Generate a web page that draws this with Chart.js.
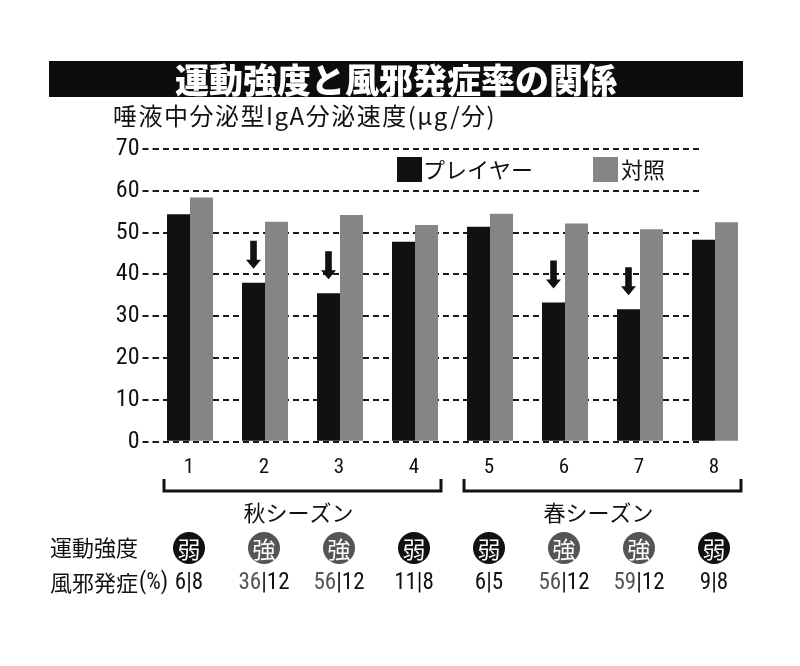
<!DOCTYPE html>
<html>
<head>
<meta charset="utf-8">
<script src="https://cdn.jsdelivr.net/npm/chart.js@4"></script>
<style>
  html, body { margin: 0; padding: 0; background: #fff; }
  #wrap { width: 800px; height: 666px; }
</style>
</head>
<body>
<div id="wrap"><canvas id="barChart" width="800" height="666"></canvas></div>
<script>
// data
var categories = ['1', '2', '3', '4', '5', '6', '7', '8'];
var playerValues = [54.4, 38.0, 35.5, 47.8, 51.4, 33.3, 31.7, 48.3];
var controlValues = [58.4, 52.6, 54.2, 51.8, 54.5, 52.2, 50.8, 52.5];
var yTicks = [0, 10, 20, 30, 40, 50, 60, 70];
var intensity = ['弱', '強', '強', '弱', '弱', '強', '強', '弱'];
var coldPlayer = [6, 36, 56, 11, 6, 56, 59, 9];
var coldControl = [8, 12, 12, 8, 5, 12, 12, 8];
var arrowIdx = [1, 2, 5, 6];
var seasonNames = ['秋シーズン', '春シーズン'];
var seasonFrom = [0, 4];
var seasonTo = [3, 7];
var seriesNames = ['プレイヤー', '対照'];

var JP = '"Noto Sans CJK JP", "Noto Sans", sans-serif';
var NUM = '"Roboto Condensed", "Liberation Sans Narrow", "Liberation Sans", sans-serif';
var BLACK = '#111111';
var GRAY = '#858585';
var DARK = '#555555';

var decor = {
    id: 'decor',
    beforeDatasetsDraw: function(chart) {
        // the dashed lines stop just after the last black bar starts
        var ctx = chart.ctx, a = chart.chartArea;
        var last = chart.getDatasetMeta(0).data[categories.length - 1];
        var x0 = last.x - last.width / 2 + 9;
        ctx.save();
        ctx.fillStyle = '#fff';
        ctx.fillRect(x0, a.top - 3, a.right - x0 + 2, a.bottom - a.top + 6);
        ctx.restore();
    },
    afterDatasetsDraw: function(chart) {
        // down arrows above the lowered player bars
        var ctx = chart.ctx;
        var meta = chart.getDatasetMeta(0);
        ctx.save();
        ctx.fillStyle = BLACK;
        arrowIdx.forEach(function(i) {
            var bar = meta.data[i];
            var cx = bar.x, tip = bar.y - 14;
            ctx.beginPath();
            ctx.moveTo(cx - 3.3, tip - 28);
            ctx.lineTo(cx + 3.3, tip - 28);
            ctx.lineTo(cx + 3.3, tip - 9);
            ctx.lineTo(cx + 7.5, tip - 9);
            ctx.lineTo(cx, tip);
            ctx.lineTo(cx - 7.5, tip - 9);
            ctx.lineTo(cx - 3.3, tip - 9);
            ctx.closePath();
            ctx.fill();
        });
        ctx.restore();
    },
    afterDraw: function(chart) {
        var ctx = chart.ctx;
        var x = chart.scales.x;
        var m0 = chart.getDatasetMeta(0), m1 = chart.getDatasetMeta(1);
        ctx.save();

        // title bar
        ctx.fillStyle = '#0d0d0d';
        ctx.fillRect(49, 61, 694, 36);
        ctx.fillStyle = '#fff';
        ctx.font = '900 34px ' + JP;
        ctx.textAlign = 'center';
        ctx.textBaseline = 'middle';
        ctx.fillText('運動強度と風邪発症率の関係', 396, 80);

        // y axis title
        ctx.fillStyle = BLACK;
        ctx.font = '24px ' + JP;
        ctx.textAlign = 'left';
        ctx.letterSpacing = '1.5px';
        ctx.fillText('唾液中分泌型IgA分泌速度(μg/分)', 113, 116);
        ctx.letterSpacing = '0px';

        // legend
        ctx.fillStyle = BLACK;
        ctx.fillRect(397, 157, 25, 25);
        ctx.fillStyle = GRAY;
        ctx.fillRect(593, 157, 25, 25);
        ctx.fillStyle = BLACK;
        ctx.font = '22px ' + JP;
        ctx.fillText(seriesNames[0], 423, 170);
        ctx.fillText(seriesNames[1], 621, 170);

        // category numbers
        ctx.font = '21px ' + NUM;
        ctx.textAlign = 'center';
        for (var c = 0; c < categories.length; c++) {
            ctx.fillText(categories[c], x.getPixelForValue(c) - 1, 468);
        }

        // season brackets
        ctx.strokeStyle = BLACK;
        ctx.lineWidth = 3;
        for (var s = 0; s < seasonNames.length; s++) {
            var b0 = m0.data[seasonFrom[s]], b1 = m1.data[seasonTo[s]];
            var left = b0.x - b0.width / 2 - 3;
            var right = b1.x + b1.width / 2 + 3;
            ctx.beginPath();
            ctx.moveTo(left, 479);
            ctx.lineTo(left, 491);
            ctx.lineTo(right, 491);
            ctx.lineTo(right, 479);
            ctx.stroke();
            ctx.fillStyle = BLACK;
            ctx.font = '22px ' + JP;
            ctx.textAlign = 'center';
            var mid = (x.getPixelForValue(seasonFrom[s]) + x.getPixelForValue(seasonTo[s])) / 2;
            ctx.fillText(seasonNames[s], mid - 4, 513);
        }

        // row labels
        ctx.textAlign = 'left';
        ctx.font = '22px ' + JP;
        ctx.fillText('運動強度', 50, 548);
        ctx.fillText('風邪発症', 50, 583);
        var lw = ctx.measureText('風邪発症').width;
        ctx.font = '23px ' + NUM;
        ctx.fillText('(%)', 50 + lw + 1, 583);

        // intensity circles and cold rates
        for (var i = 0; i < categories.length; i++) {
            var cx = x.getPixelForValue(i);
            var strong = intensity[i] === '強';
            ctx.beginPath();
            ctx.arc(cx - 1, 548, 16, 0, Math.PI * 2);
            ctx.fillStyle = strong ? DARK : BLACK;
            ctx.fill();
            ctx.fillStyle = '#fff';
            ctx.font = '23px ' + JP;
            ctx.textAlign = 'center';
            ctx.fillText(intensity[i], cx - 1, 549);

            ctx.font = '23px ' + NUM;
            var p1 = String(coldPlayer[i]);
            var p2 = '|' + coldControl[i];
            var w1 = ctx.measureText(p1).width, w2 = ctx.measureText(p2).width;
            var sx = cx - 1 - (w1 + w2) / 2;
            ctx.textAlign = 'left';
            ctx.fillStyle = strong ? DARK : BLACK;
            ctx.fillText(p1, sx, 583);
            ctx.fillStyle = BLACK;
            ctx.fillText(p2, sx + w1, 583);
        }
        ctx.restore();
    }
};

var barChartCanvas = document.getElementById('barChart').getContext('2d');
var barChart = new Chart(barChartCanvas, {
    type: 'bar',
    data: {
        labels: categories,
        datasets: [
            { label: seriesNames[0], data: playerValues, backgroundColor: BLACK },
            { label: seriesNames[1], data: controlValues, backgroundColor: GRAY }
        ]
    },
    options: {
        responsive: false,
        animation: false,
        devicePixelRatio: 1,
        barPercentage: 1,
        categoryPercentage: 0.613,
        layout: { padding: { left: 0, right: 47.5, top: 149, bottom: 184.3 } },
        plugins: {
            legend: { display: false },
            tooltip: { enabled: false }
        },
        scales: {
            x: {
                grid: { display: false },
                border: { display: false },
                ticks: { display: false },
                afterFit: function(scale) { scale.height = 40; }
            },
            y: {
                min: 0,
                max: 70,
                afterBuildTicks: function(scale) {
                    scale.ticks = yTicks.map(function(v) { return { value: v }; });
                },
                grid: {
                    color: '#1a1a1a',
                    lineWidth: 2,
                    drawTicks: true,
                    tickLength: 10,
                    tickBorderDash: [6, 4],
                    tickColor: '#1a1a1a',
                    tickWidth: 2
                },
                border: { display: false, dash: [6, 4] },
                ticks: { color: BLACK, font: { family: NUM, size: 24 }, padding: 3 },
                afterFit: function(scale) { scale.width = 152.5; }
            }
        }
    },
    plugins: [decor]
});
</script>
</body>
</html>
